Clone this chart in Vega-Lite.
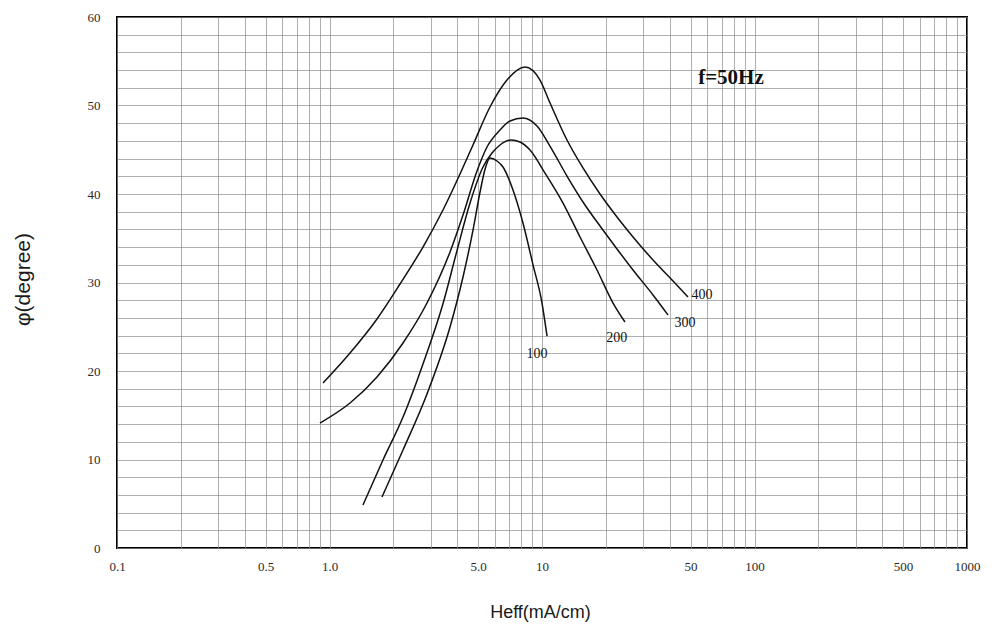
{
  "$schema": "https://vega.github.io/schema/vega-lite/v6.json",
  "width": 850,
  "height": 531,
  "autosize": {"type": "none"},
  "padding": {"left": 117, "top": 17, "right": 25, "bottom": 86},
  "background": "#ffffff",
  "config": {
    "view": {"stroke": "#000000", "strokeWidth": 2},
    "axis": {"labelFont": "Liberation Serif", "labelFontSize": 13, "labelColor": "#2a2a2a", "titleFont": "Liberation Sans", "titleColor": "#1a1a1a", "titleFontWeight": "normal", "gridColor": "#8c8c8c", "gridWidth": 0.7, "gridOpacity": 1, "ticks": false, "domain": false}
  },
  "datasets": {
    "curves": [
      {"H": 0.932, "phi": 18.64, "curve": "400"},
      {"H": 1.249, "phi": 22.03, "curve": "400"},
      {"H": 1.673, "phi": 25.88, "curve": "400"},
      {"H": 2.147, "phi": 29.83, "curve": "400"},
      {"H": 2.754, "phi": 34.01, "curve": "400"},
      {"H": 3.42, "phi": 38.19, "curve": "400"},
      {"H": 4.113, "phi": 42.26, "curve": "400"},
      {"H": 4.735, "phi": 45.54, "curve": "400"},
      {"H": 5.692, "phi": 49.83, "curve": "400"},
      {"H": 6.843, "phi": 52.88, "curve": "400"},
      {"H": 8.318, "phi": 54.35, "curve": "400"},
      {"H": 9.786, "phi": 52.88, "curve": "400"},
      {"H": 10.91, "phi": 50.28, "curve": "400"},
      {"H": 13.11, "phi": 46.10, "curve": "400"},
      {"H": 15.59, "phi": 42.94, "curve": "400"},
      {"H": 18.75, "phi": 40.00, "curve": "400"},
      {"H": 22.54, "phi": 37.40, "curve": "400"},
      {"H": 26.81, "phi": 35.14, "curve": "400"},
      {"H": 33.30, "phi": 32.54, "curve": "400"},
      {"H": 41.36, "phi": 30.17, "curve": "400"},
      {"H": 48.65, "phi": 28.36, "curve": "400"},

      {"H": 0.902, "phi": 14.12, "curve": "300"},
      {"H": 1.249, "phi": 16.38, "curve": "300"},
      {"H": 1.673, "phi": 19.32, "curve": "300"},
      {"H": 2.218, "phi": 23.16, "curve": "300"},
      {"H": 2.876, "phi": 27.68, "curve": "300"},
      {"H": 3.691, "phi": 33.45, "curve": "300"},
      {"H": 4.249, "phi": 37.63, "curve": "300"},
      {"H": 4.945, "phi": 42.60, "curve": "300"},
      {"H": 5.510, "phi": 45.31, "curve": "300"},
      {"H": 6.345, "phi": 47.23, "curve": "300"},
      {"H": 7.07, "phi": 48.25, "curve": "300"},
      {"H": 8.136, "phi": 48.59, "curve": "300"},
      {"H": 9.474, "phi": 47.68, "curve": "300"},
      {"H": 10.90, "phi": 45.42, "curve": "300"},
      {"H": 13.11, "phi": 42.03, "curve": "300"},
      {"H": 15.59, "phi": 39.10, "curve": "300"},
      {"H": 18.75, "phi": 36.38, "curve": "300"},
      {"H": 22.54, "phi": 33.79, "curve": "300"},
      {"H": 26.81, "phi": 31.41, "curve": "300"},
      {"H": 33.30, "phi": 28.59, "curve": "300"},
      {"H": 39.17, "phi": 26.33, "curve": "300"},

      {"H": 1.437, "phi": 4.86, "curve": "200"},
      {"H": 1.785, "phi": 9.94, "curve": "200"},
      {"H": 2.218, "phi": 14.80, "curve": "200"},
      {"H": 2.754, "phi": 20.80, "curve": "200"},
      {"H": 3.42, "phi": 27.60, "curve": "200"},
      {"H": 3.981, "phi": 33.60, "curve": "200"},
      {"H": 4.584, "phi": 38.98, "curve": "200"},
      {"H": 5.278, "phi": 43.05, "curve": "200"},
      {"H": 5.817, "phi": 44.63, "curve": "200"},
      {"H": 6.345, "phi": 45.54, "curve": "200"},
      {"H": 7.147, "phi": 46.10, "curve": "200"},
      {"H": 7.879, "phi": 45.88, "curve": "200"},
      {"H": 8.781, "phi": 44.97, "curve": "200"},
      {"H": 10.33, "phi": 42.37, "curve": "200"},
      {"H": 12.56, "phi": 38.98, "curve": "200"},
      {"H": 15.10, "phi": 35.14, "curve": "200"},
      {"H": 18.15, "phi": 31.41, "curve": "200"},
      {"H": 21.59, "phi": 27.68, "curve": "200"},
      {"H": 24.58, "phi": 25.54, "curve": "200"},

      {"H": 1.766, "phi": 5.76, "curve": "100"},
      {"H": 2.218, "phi": 11.07, "curve": "100"},
      {"H": 2.876, "phi": 17.40, "curve": "100"},
      {"H": 3.691, "phi": 24.97, "curve": "100"},
      {"H": 4.249, "phi": 30.62, "curve": "100"},
      {"H": 4.735, "phi": 35.93, "curve": "100"},
      {"H": 5.108, "phi": 40.20, "curve": "100"},
      {"H": 5.393, "phi": 42.80, "curve": "100"},
      {"H": 5.692, "phi": 44.07, "curve": "100"},
      {"H": 6.141, "phi": 43.73, "curve": "100"},
      {"H": 6.553, "phi": 43.05, "curve": "100"},
      {"H": 7.303, "phi": 40.45, "curve": "100"},
      {"H": 8.136, "phi": 36.72, "curve": "100"},
      {"H": 9.071, "phi": 32.00, "curve": "100"},
      {"H": 10.0, "phi": 27.68, "curve": "100"},
      {"H": 10.56, "phi": 23.95, "curve": "100"}
    ],
    "labels": [
      {"H": 56.6, "phi": 28.6, "text": "400"},
      {"H": 47.1, "phi": 25.4, "text": "300"},
      {"H": 22.5, "phi": 23.7, "text": "200"},
      {"H": 9.47, "phi": 21.9, "text": "100"}
    ],
    "note": [
      {"H": 77.5, "phi": 53.1, "text": "f=50Hz"}
    ]
  },
  "layer": [
    {
      "data": {"name": "curves"},
      "mark": {"type": "line", "color": "#111111", "strokeWidth": 1.5, "interpolate": "monotone"},
      "encoding": {
        "x": {
          "field": "H", "type": "quantitative",
          "scale": {"type": "log", "domain": [0.1, 1000], "nice": false},
          "axis": {
            "title": "Heff(mA/cm)", "titleFontSize": 18, "titleX": 423, "titleY": 64, "titleBaseline": "middle",
            "labelPadding": 12, "grid": true, "labelOverlap": false, "labelBound": false, "labelFlush": false, "tickCount": 200,
            "values": [0.1,0.2,0.3,0.4,0.5,0.6,0.7,0.8,0.9,1,2,3,4,5,6,7,8,9,10,20,30,40,50,60,70,80,90,100,200,300,400,500,600,700,800,900,1000],
            "labelExpr": "datum.value == 1 ? '1.0' : datum.value == 5 ? '5.0' : (datum.value == 0.1 || datum.value == 0.5 || datum.value == 10 || datum.value == 50 || datum.value == 100 || datum.value == 500 || datum.value == 1000) ? format(datum.value, '~g') : ''"
          }
        },
        "y": {
          "field": "phi", "type": "quantitative",
          "scale": {"domain": [0, 60], "nice": false},
          "axis": {
            "title": "φ(degree)", "titleFontSize": 21, "titleX": -94, "titleY": 262, "titleBaseline": "middle", "titleAngle": -90,
            "labelPadding": 17, "grid": true, "labelOverlap": false, "tickCount": 200,
            "values": [0,2,4,6,8,10,12,14,16,18,20,22,24,26,28,30,32,34,36,38,40,42,44,46,48,50,52,54,56,58,60],
            "labelExpr": "datum.value % 10 == 0 ? format(datum.value, 'd') : ''"
          }
        },
        "detail": {"field": "curve", "type": "nominal"}
      }
    },
    {
      "data": {"name": "labels"},
      "mark": {"type": "text", "font": "Liberation Serif", "fontSize": 14, "color": "#111111", "align": "center", "baseline": "middle"},
      "encoding": {
        "x": {"field": "H", "type": "quantitative"},
        "y": {"field": "phi", "type": "quantitative"},
        "text": {"field": "text"}
      }
    },
    {
      "data": {"name": "note"},
      "mark": {"type": "text", "font": "Liberation Serif", "fontSize": 21, "fontWeight": "bold", "color": "#111111", "align": "center", "baseline": "middle"},
      "encoding": {
        "x": {"field": "H", "type": "quantitative"},
        "y": {"field": "phi", "type": "quantitative"},
        "text": {"field": "text"}
      }
    }
  ]
}
